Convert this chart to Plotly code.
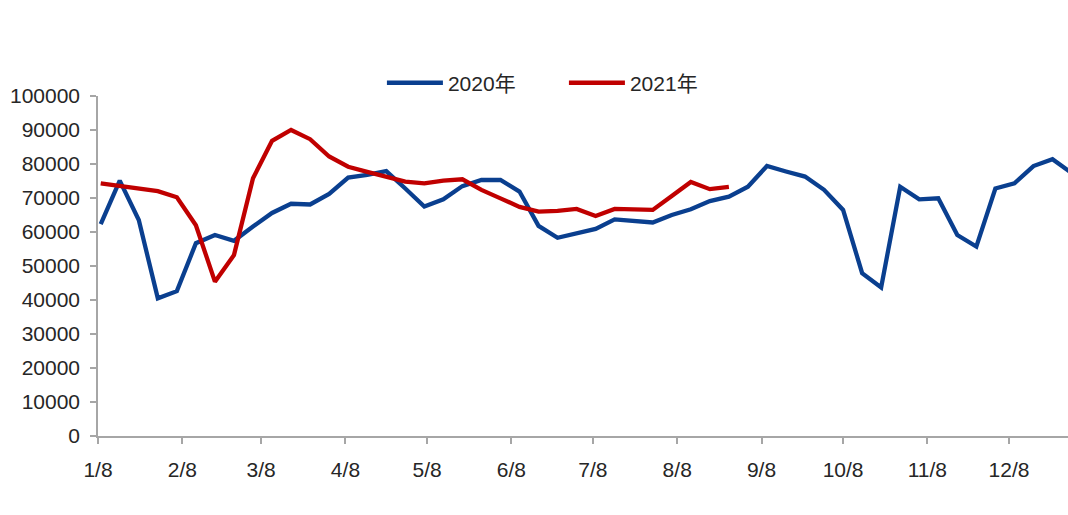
import pandas as pd
import plotly.graph_objects as go

# weekly values (tonnes)
values_2020 = [62300, 75100, 63500, 40500, 42600, 56700, 59100, 57400, 61600, 65600,
               68300, 68100, 71200, 76000, 76800, 77900, 72800, 67500, 69600, 73500,
               75300, 75300, 71900, 61800, 58300, 59600, 60900, 63700, 63300, 62800,
               65000, 66700, 69100, 70400, 73300, 79400, 77800, 76300, 72400, 66500,
               47900, 43700, 73300, 69600, 69900, 59100, 55700, 72800, 74300, 79400,
               81400, 77400]
values_2021 = [74300, 73500, 73000, 72000, 70200, 62000, 45400, 53200, 75800, 86800,
               90000, 87300, 82200, 79200, 77700, 76300, 74800, 74300, 75100, 75500,
               72400, 69900, 67400, 66000, 66200, 66800, 64700, 66800, 66500, 66500,
               70600, 74700, 72600, 73300]
series_names = ["2020年", "2021年"]
tick_dates = ["2020-%02d-08" % m for m in range(1, 13)]
tick_labels = ["%d/8" % m for m in range(1, 13)]

# both years placed on one Jan–Dec calendar axis (weekly observations)
weeks_2020 = pd.date_range("2020-01-09", periods=len(values_2020), freq="7D")
weeks_2021 = pd.date_range("2020-01-09", periods=len(values_2021), freq="7D")

FONT = "Liberation Sans, Arial, Noto Sans CJK SC, sans-serif"
TXT = "#262626"

fig = go.Figure()
fig.add_trace(go.Scatter(x=weeks_2020, y=values_2020, mode="lines", name=series_names[0],
                         line=dict(color="#0A3F8F", width=4.3)))
fig.add_trace(go.Scatter(x=weeks_2021, y=values_2021, mode="lines", name=series_names[1],
                         line=dict(color="#C00000", width=4.3)))

fig.update_layout(
    width=1068, height=515,
    margin=dict(l=98, r=0, t=96, b=79, autoexpand=False),
    paper_bgcolor="white", plot_bgcolor="white",
    font=dict(family=FONT, size=21, color=TXT),
    showlegend=True,
    legend=dict(orientation="h", x=0.2927, y=1.038, xanchor="left", yanchor="middle",
                font=dict(size=21, color=TXT), bgcolor="rgba(0,0,0,0)",
                itemwidth=56, entrywidth=111, entrywidthmode="pixels"),
)
fig.update_xaxes(
    type="date", range=["2020-01-08", "2020-12-29 17:00"], automargin=False,
    tickmode="array", tickvals=tick_dates, ticktext=tick_labels,
    showgrid=False, zeroline=False, showline=True, linecolor="#A6A6A6", linewidth=1.5,
    ticks="outside", ticklen=6, tickcolor="#A6A6A6", tickwidth=1.5,
    ticklabelstandoff=8, tickfont=dict(size=21, color=TXT),
)
fig.update_yaxes(
    range=[0, 100000], dtick=10000, tickformat="d", automargin=False,
    showgrid=False, zeroline=False, showline=True, linecolor="#A6A6A6", linewidth=1.5,
    ticks="outside", ticklen=6, tickcolor="#A6A6A6", tickwidth=1.5,
    ticklabelstandoff=6, tickfont=dict(size=21, color=TXT),
)

fig.write_html("out.html", config={"displayModeBar": False},
               post_script="document.body.style.margin='0';document.body.style.overflow='hidden';")
